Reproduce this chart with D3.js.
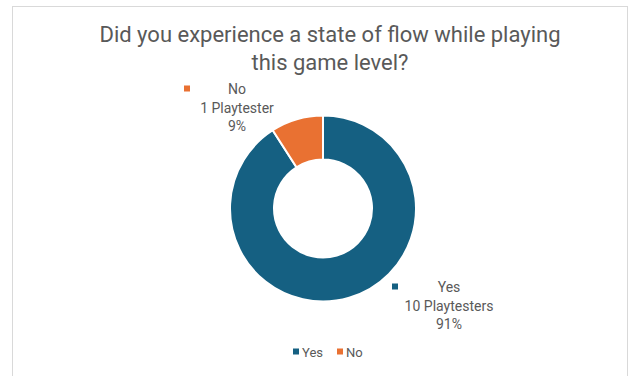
<!DOCTYPE html>
<html>
<head>
<meta charset="utf-8">
<script src="https://d3js.org/d3.v7.min.js"></script>
<style>
  body { margin: 0; background: #fff; }
  text { font-family: Roboto, "Open Sans", sans-serif; fill: #595959; }
</style>
</head>
<body>
<script>
// data
const categories = ["Yes", "No"];
const counts = [10, 1];
const units = ["Playtesters", "Playtester"];
const titleLines = ["Did you experience a state of flow while playing", "this game level?"];

const w = 638, h = 376;
const colors = d3.scaleOrdinal().domain(categories).range(["#156082", "#e97132"]);

const svg = d3.select("body").append("svg")
  .attr("width", w)
  .attr("height", h);

// chart frame
svg.append("rect")
  .attr("x", 12.5).attr("y", 6.5)
  .attr("width", 615).attr("height", 380)
  .attr("fill", "#fff")
  .attr("stroke", "#d9d9d9");

// title
svg.selectAll("text.title").data(titleLines).enter().append("text")
  .attr("class", "title")
  .attr("x", 330)
  .attr("y", (d, i) => 42 + i * 27.5)
  .attr("text-anchor", "middle")
  .style("font-size", "22px")
  .text(d => d);

// donut
const cx = 323, cy = 208.5, rOut = 93, rIn = 49;
const total = d3.sum(counts);
const items = categories.map((c, i) => ({ cat: c, value: counts[i], unit: units[i] }));

const pie = d3.pie().value(d => d.value).sort(null);
const arc = d3.arc().innerRadius(rIn).outerRadius(rOut);

const g = svg.append("g").attr("transform", `translate(${cx},${cy})`);
g.selectAll("path").data(pie(items)).enter().append("path")
  .attr("d", arc)
  .attr("fill", d => colors(d.data.cat))
  .attr("stroke", "#fff")
  .attr("stroke-width", 2);

// data labels (offset from the donut center)
const labelOffset = { Yes: [126, 97], No: [-86, -101] };
const lab = g.selectAll("g.lab").data(items).enter().append("g")
  .attr("class", "lab")
  .attr("transform", d => `translate(${labelOffset[d.cat][0]},${labelOffset[d.cat][1]})`);

lab.append("rect")
  .attr("x", d => d.cat == "Yes" ? -57 : -53)
  .attr("y", -22)
  .attr("width", 6).attr("height", 6)
  .attr("fill", d => colors(d.cat));

lab.append("text")
  .attr("text-anchor", "middle")
  .attr("y", -14)
  .style("font-size", "14px")
  .text(d => d.cat);
lab.append("text")
  .attr("text-anchor", "middle")
  .attr("y", 5)
  .style("font-size", "14px")
  .text(d => d.value + " " + d.unit);
lab.append("text")
  .attr("text-anchor", "middle")
  .attr("y", 23)
  .style("font-size", "14px")
  .text(d => Math.round(d.value / total * 100) + "%");

// legend
const legX = d3.scalePoint().domain(categories).range([293, 337]);
const leg = svg.selectAll("g.leg").data(categories).enter().append("g")
  .attr("class", "leg")
  .attr("transform", d => `translate(${legX(d)},352)`);
leg.append("rect")
  .attr("x", 0).attr("y", -3.5)
  .attr("width", 6).attr("height", 6)
  .attr("fill", d => colors(d));
leg.append("text")
  .attr("x", 9).attr("y", 5)
  .style("font-size", "13px")
  .text(d => d);
</script>
</body>
</html>
